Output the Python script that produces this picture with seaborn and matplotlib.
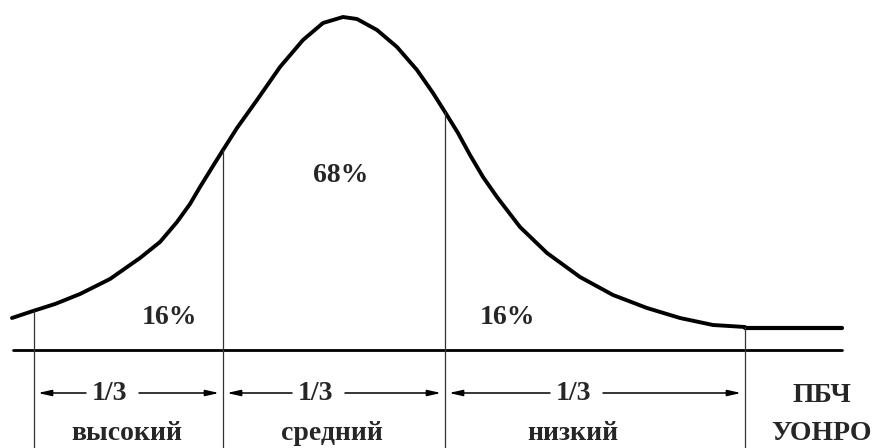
"""Distribution curve with three thirds: высокий / средний / низкий."""
import matplotlib
matplotlib.use("Agg")
import matplotlib.pyplot as plt
import seaborn as sns
import pandas as pd

sns.set_style("white")
plt.rcParams["font.family"] = ["Liberation Serif", "DejaVu Serif"]

# curve traced in picture pixels (x right, y down)
curve_x = [12, 33, 55, 80, 110, 140, 160, 177, 190, 200, 213, 223, 237, 257,
           280, 303, 323, 343, 357, 377, 397, 417, 433, 445, 458, 470, 483,
           497, 520, 547, 580, 613, 647, 680, 713, 745]
curve_y = [318, 311, 304, 294, 279, 258, 242, 222, 204, 187, 166, 150, 128,
           100, 67, 40, 23, 17, 19, 30, 47, 70, 93, 112, 133, 155, 177, 197,
           227, 253, 277, 295, 308, 318, 325, 327]
tail_x = [745, 842]
tail_y = [328, 328]

baseline_y = 350
dividers = [34, 223, 445, 745]
divider_tops = [311, 150, 112, 327]

thirds_label = "1/3"
thirds_text_x = [110, 316, 574]
level_labels = ["высокий", "средний", "низкий"]
level_x = [127, 332, 573]
pct_labels = ["16%", "68%", "16%"]
pct_x = [170, 341, 507]
pct_y = [317, 175, 318]
right_labels = ["ПБЧ", "УОНРО"]

FS = 20

fig, ax = plt.subplots(figsize=(8.75, 4.48), dpi=100)
fig.subplots_adjust(left=0, right=1, bottom=0, top=1)

curve = pd.DataFrame({"x": curve_x, "y": curve_y})
sns.lineplot(data=curve, x="x", y="y", color="black", linewidth=2.8,
             sort=False, ax=ax)
sns.lineplot(x=tail_x, y=tail_y, color="black", linewidth=3.0, ax=ax)

ax.plot([13, 842], [baseline_y, baseline_y], color="black", linewidth=2.0)
for dx, top in zip(dividers, divider_tops):
    ax.plot([dx, dx], [top, 448], color="#333333", linewidth=0.9)

arrow_y = 393
kw = dict(arrowprops=dict(arrowstyle="-|>,head_length=0.8,head_width=0.18",
                          color="black", linewidth=1.1, shrinkA=0, shrinkB=0))
for i, tx in enumerate(thirds_text_x):
    left, right = dividers[i] + 4, dividers[i + 1] - 4
    ax.text(tx, arrow_y, thirds_label, ha="center", va="center",
            fontsize=FS, fontweight="bold")
    ax.annotate("", xy=(left, arrow_y), xytext=(tx - 24, arrow_y), **kw)
    ax.annotate("", xy=(right, arrow_y), xytext=(tx + 29, arrow_y), **kw)
    ax.text(level_x[i], 433, level_labels[i], ha="center", va="center",
            fontsize=FS, fontweight="bold")

for label, px, py in zip(pct_labels, pct_x, pct_y):
    ax.text(px, py, label, ha="center", va="center", fontsize=FS,
            fontweight="bold")

ax.text(822, 395, right_labels[0], ha="center", va="center", fontsize=FS,
        fontweight="bold")
ax.text(822, 433, right_labels[1], ha="center", va="center", fontsize=FS,
        fontweight="bold")

ax.set_xlim(0, 875)
ax.set_ylim(448, 0)
ax.axis("off")

plt.savefig("out.png", dpi=100)
plt.close()
